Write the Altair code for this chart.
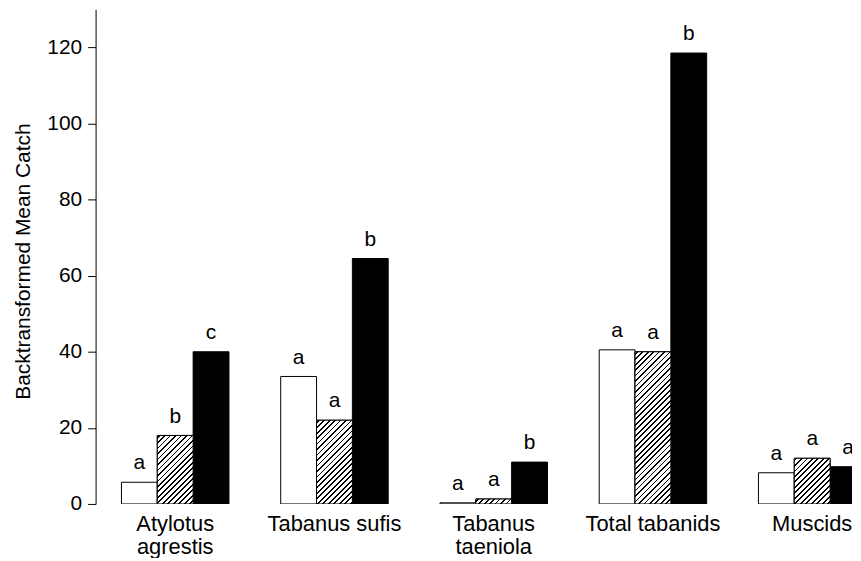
import altair as alt
import pandas as pd

# ---------------- data ----------------
groups = ["Atylotus agrestis", "Tabanus sufis", "Tabanus taeniola", "Total tabanids", "Muscids"]
treatments = ["T1", "T2", "T3"]
t1_values = [5.7, 33.5, 0.3, 40.5, 8.2]
t2_values = [18.0, 22.0, 1.3, 40.0, 12.0]
t3_values = [40.0, 64.5, 11.0, 118.5, 9.8]
t1_letters = ["a", "a", "a", "a", "a"]
t2_letters = ["b", "a", "a", "a", "a"]
t3_letters = ["c", "b", "b", "b", "a"]
y_ticks = [0, 20, 40, 60, 80, 100, 120]
two_line_labels = ["Atylotus agrestis", "Tabanus taeniola"]

rows = []
for i, g in enumerate(groups):
    for t, vals, lets in zip(treatments, [t1_values, t2_values, t3_values],
                             [t1_letters, t2_letters, t3_letters]):
        rows.append({"group": g, "treatment": t, "value": vals[i], "letter": lets[i]})
df = pd.DataFrame(rows)

# ---------------- layout ----------------
FONT = "Liberation Sans"
Y_MAX = 130
PLOT_H = 497
PLOT_W = 760
X_RANGE = [0, 800]
BAR_W = 36.0
PX_PER_UNIT = PLOT_H / Y_MAX


def hatch_gradient(height_px, width_px=BAR_W, period=5.5, line=1.8):
    """Diagonal '///' hatching as a linear gradient in bounding-box units."""
    L = width_px + height_px
    c = L / (width_px ** 2 + height_px ** 2)
    stops = []
    pos = 1.5
    while pos < L:
        a = max(pos, 0.0) / L
        b = min(pos + line, L) / L
        stops += [(a, "white"), (a, "black"), (b, "black"), (b, "white")]
        pos += period
    return alt.LinearGradient(
        gradient="linear", x1=0, y1=0, x2=c * width_px, y2=c * height_px,
        stops=[alt.GradientStop(offset=o, color=col) for o, col in stops],
    )


label_expr = " || ".join("datum.label == '%s'" % s for s in two_line_labels)
label_expr = "(" + label_expr + ") ? split(datum.label, ' ') : datum.label"

x_enc = alt.X(
    "group:N",
    sort=groups,
    scale=alt.Scale(domain=groups, range=X_RANGE, paddingInner=0.325, paddingOuter=0.1625),
    axis=alt.Axis(
        title=None, domain=False, ticks=False, labelAngle=0, labelFont=FONT,
        labelFontSize=22, labelColor="black", labelPadding=10, labelLineHeight=23,
        labelExpr=label_expr,
    ),
)
xo_enc = alt.XOffset(
    "treatment:N", sort=treatments,
    scale=alt.Scale(domain=treatments, paddingInner=0, paddingOuter=0),
)
y_enc = alt.Y(
    "value:Q",
    scale=alt.Scale(domain=[0, Y_MAX], nice=False, zero=True),
    axis=alt.Axis(
        values=y_ticks, tickSize=8, tickColor="black", domainColor="black",
        labelColor="black", labelFont=FONT, labelFontSize=21, labelPadding=6,
        grid=False, title="Backtransformed Mean Catch", titleFont=FONT,
        titleFontSize=21, titleFontWeight="normal", titleColor="black",
        titlePadding=13, titleY=253,
    ),
)

base = alt.Chart(df)

bars = base.mark_bar(stroke="black", strokeWidth=1, clip=True).encode(
    x=x_enc, xOffset=xo_enc, y=y_enc,
    fill=alt.Fill("treatment:N", scale=alt.Scale(domain=treatments, range=["white", "white", "black"]), legend=None),
)

hatched_layers = []
for g, v in zip(groups, t2_values):
    hatched_layers.append(
        base.transform_filter(
            (alt.datum.group == g) & (alt.datum.treatment == "T2")
        ).mark_bar(
            fill=hatch_gradient(v * PX_PER_UNIT), stroke="black", strokeWidth=1, clip=True
        ).encode(x=x_enc, xOffset=xo_enc, y=y_enc)
    )

letters = base.mark_text(
    baseline="bottom", dy=-9, font=FONT, fontSize=21, color="black", clip=True
).encode(x=x_enc, xOffset=xo_enc, y=y_enc, text="letter:N")

chart = alt.layer(bars, *hatched_layers, letters).properties(
    width=PLOT_W,
    height=PLOT_H,
    background="white",
    autosize=alt.AutoSizeParams(type="none"),
    padding={"left": 88, "top": 0, "right": 1, "bottom": 53},
).configure_view(stroke=None)

chart.save("out.html", embed_options={"renderer": "svg", "actions": False})
